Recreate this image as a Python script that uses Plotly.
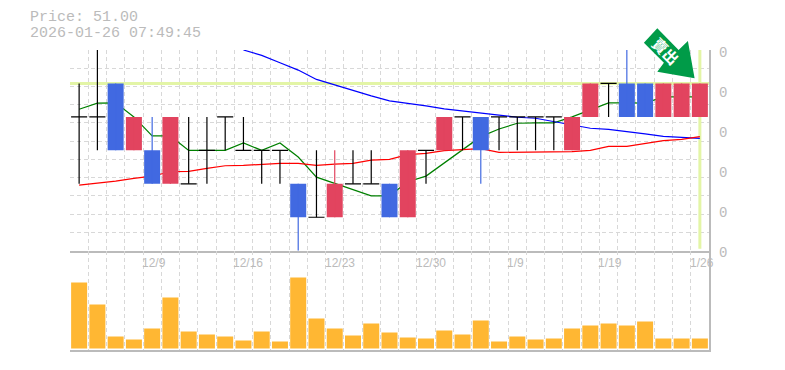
import plotly.graph_objects as go

# ---- data -------------------------------------------------------------
date_idx = [4, 9, 14, 19, 24, 29, 34]
date_labels = ["12/9", "12/16", "12/23", "12/30", "1/9", "1/19", "1/26"]

opens = [50, 50, 51, 49, 49, 48, 48, 49, 50, 49, 49, 49, 48, 47, 47, 48, 48, 48, 47, 49, 49, 50, 50, 50, 50, 50, 50, 49, 50, 51, 51, 51, 50, 50, 50]
closes = [50, 50, 49, 50, 48, 50, 48, 49, 50, 49, 49, 49, 47, 47, 48, 48, 48, 47, 49, 49, 50, 50, 49, 50, 50, 50, 50, 50, 51, 51, 50, 50, 51, 51, 51]
highs = [51, 52.5, 51, 50, 50, 50, 50, 50, 50, 50, 49, 49, 48, 49, 49, 49, 49, 48, 49, 49, 50, 50, 50, 50, 50, 50, 50, 50, 51, 51, 52.5, 51, 51, 51, 51]
lows = [48, 49, 49, 49, 48, 48, 48, 48, 49, 49, 48, 48, 46, 47, 47, 48, 48, 47, 47, 48, 49, 49, 48, 49, 49, 49, 49, 49, 50, 50, 50, 50, 50, 50, 50]

ma_green = [50.23, 50.41, 50.42, 50.0, 49.43, 49.43, 49.0, 49.0, 49.0, 49.22, 49.0, 49.22, 48.8, 48.2, 48.02, 47.84, 47.64, 47.64, 48.06, 48.23, 48.62, 49.0, 49.41, 49.64, 49.81, 49.82, 49.82, 50.0, 50.21, 50.42, 50.42, 50.41, 50.6, 50.6, 50.6]
ma_red = [47.96, 48.01, 48.08, 48.16, 48.23, 48.36, 48.37, 48.46, 48.54, 48.55, 48.59, 48.61, 48.61, 48.55, 48.59, 48.61, 48.71, 48.73, 48.87, 48.91, 48.99, 49.03, 49.05, 48.94, 48.94, 48.94, 48.94, 48.96, 49.0, 49.12, 49.12, 49.2, 49.29, 49.33, 49.41]
ma_blue = [None] * 9 + [52.0, 51.84, 51.62, 51.40, 51.12, 50.95, 50.78, 50.63, 50.48, 50.41, 50.33, 50.24, 50.18, 50.11, 50.04, 49.99, 49.96, 49.86, 49.76, 49.66, 49.63, 49.55, 49.49, 49.42, 49.39, 49.36]

volumes = [66, 44, 12, 9, 20, 51, 17, 14, 12, 8, 17, 7, 71, 30, 20, 13, 25, 16, 11, 10, 18, 14, 28, 7, 12, 9, 10, 20, 23, 25, 23, 27, 10, 10, 10]

last_price = 51
last_index = 34
price_labels_at = [52, 50.8, 49.6, 48.4, 47.2, 46]
title_lines = ["Price: 51.00", "2026-01-26 07:49:45"]
badge_text = "賣出"

# ---- style ------------------------------------------------------------
W, H = 785, 370
L, R, T, B = 70.4, 709.4, 50, 350
PH = B - T
PW = R - L
split = (B - 250.7) / PH
UP, DOWN, DOJI = "#e2445f", "#4169e1", "#000000"
GRID, GREY, HILITE = "#d8d8d8", "#bbbbbb", "#e3f5a6"
DASH = "4px,3px"
n = len(opens)
xs = list(range(n))
half = 0.44


def px(x, y):
    return (x - L) / PW, (H - y - (H - B)) / PH


fig = go.Figure()

# highlight lines
fig.add_trace(go.Scatter(x=[-0.5, n - 0.5], y=[last_price] * 2, mode="lines", line=dict(color=HILITE, width=3), hoverinfo="skip"))
fig.add_trace(go.Scatter(x=[last_index] * 2, y=[46.06, 52], mode="lines", line=dict(color=HILITE, width=3), hoverinfo="skip"))

# moving averages
for vals, col in ((ma_green, "#008000"), (ma_blue, "#0000ff"), (ma_red, "#ff0000")):
    fig.add_trace(go.Scatter(x=xs, y=vals, mode="lines", line=dict(color=col, width=1.2), hoverinfo="skip"))

# candles
body_col = [UP if c > o else DOWN for o, c in zip(opens, closes)]
for colour in (UP, DOWN, DOJI):
    wx, wy = [], []
    for i in xs:
        doji = opens[i] == closes[i]
        if (doji and colour == DOJI) or (not doji and body_col[i] == colour):
            wx += [i, i, None]
            wy += [lows[i], highs[i], None]
            if doji:
                wx += [i - half, i + half, None]
                wy += [opens[i], opens[i], None]
    fig.add_trace(go.Scatter(x=wx, y=wy, mode="lines", line=dict(color=colour, width=1.2), xaxis="x", yaxis="y3", hoverinfo="skip"))

idx = [i for i in xs if opens[i] != closes[i]]
fig.add_trace(go.Bar(
    x=idx,
    y=[abs(closes[i] - opens[i]) for i in idx],
    base=[min(closes[i], opens[i]) for i in idx],
    width=0.877,
    marker=dict(color=[body_col[i] for i in idx], line=dict(width=0)),
    xaxis="x", yaxis="y3", hoverinfo="skip",
))

# volume
fig.add_trace(go.Bar(x=xs, y=volumes, width=0.877, marker=dict(color="#ffb733", line=dict(width=0)), xaxis="x2", yaxis="y2", hoverinfo="skip"))

axis_common = dict(range=[-0.5, n - 0.5], tick0=-0.5, dtick=1, showgrid=True, gridcolor=GRID, griddash=DASH,
                   gridwidth=1, showticklabels=False, ticks="", zeroline=False, showline=True, linecolor=GREY, linewidth=1.5)
annots = []
for i, lab in zip(date_idx, date_labels):
    annots.append(dict(x=i - 0.5, y=px(0, 262.5)[1], xref="x", yref="paper", yanchor="middle", xanchor="left", xshift=-3,
                       showarrow=False, text=lab, font=dict(family="Liberation Sans", size=12, color=GREY)))
for v in price_labels_at:
    annots.append(dict(x=px(723.5, 0)[0], y=v, xref="paper", yref="y", yanchor="middle", xanchor="center", yshift=-2.7,
                       showarrow=False, text="0", font=dict(family="Liberation Mono", size=14, color=GREY)))
for line, y in zip(title_lines, (18, 33)):
    annots.append(dict(x=px(30, 0)[0], y=px(0, y)[1], xref="paper", yref="paper", xanchor="left", yanchor="middle", xshift=-2,
                       showarrow=False, text=line, font=dict(family="Liberation Mono", size=15, color=GREY)))
annots.append(dict(x=px(666, 0)[0], y=px(0, 50.5)[1], xref="paper", yref="paper", xanchor="center", yanchor="middle",
                   showarrow=False, text=f"<b>{badge_text}</b>", textangle=45,
                   font=dict(family="Noto Sans CJK TC", size=15, color="#ffffff")))

poly = [(657.7, 28.3), (679, 50), (688.3, 41), (695, 78.3), (657.7, 71.7), (664.3, 62.7), (644.3, 42.7)]
path = "M" + " L".join(f"{px(x, 0)[0]:.5f},{px(0, y)[1]:.5f}" for x, y in poly) + " Z"

fig.update_layout(
    width=W, height=H, autosize=False,
    margin=dict(l=L, r=W - R, t=T, b=H - B, pad=0),
    paper_bgcolor="white", plot_bgcolor="white",
    showlegend=False, barmode="overlay",
    xaxis=dict(anchor="y", **axis_common),
    xaxis2=dict(anchor="y2", matches="x", **axis_common),
    yaxis=dict(domain=[split, 1], range=[46, 52], tick0=46, dtick=6 / 11, showgrid=True, gridcolor=GRID,
               griddash=DASH, gridwidth=1, showticklabels=False, ticks="", zeroline=False),
    yaxis2=dict(domain=[0, split], range=[-1.5, 97.8], showgrid=False, showticklabels=False, ticks="", zeroline=False,
                side="right", showline=True, linecolor=GREY, linewidth=1.5),
    yaxis3=dict(overlaying="y", range=[46, 52], side="right", showgrid=False, showticklabels=False, ticks="",
                zeroline=False, showline=True, linecolor=GREY, linewidth=1.5),
    annotations=annots,
    shapes=[dict(type="path", xref="paper", yref="paper", path=path, fillcolor="#009b48", line=dict(width=0), layer="above")],
)

fig.write_html("out.html", config={"displayModeBar": False},
               post_script="document.body.style.margin='0';")
